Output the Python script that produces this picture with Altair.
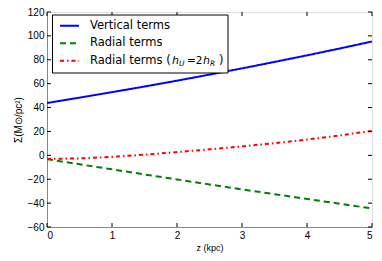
import altair as alt
import pandas as pd

z = [0, 0.5, 1, 1.5, 2, 2.5, 3, 3.5, 4, 4.5, 5]
vertical = [43.8, 48.3, 52.9, 57.6, 62.5, 67.6, 72.8, 78.2, 83.7, 89.4, 95.3]
radial = [-3.2, -7.5, -11.7, -16.0, -20.2, -24.4, -28.5, -32.5, -36.5, -40.5, -44.5]
radial_hu = [-3.0, -2.6, -1.3, 0.5, 2.7, 5.0, 7.5, 10.2, 13.2, 16.6, 20.5]

series_names = ["Vertical terms", "Radial terms", "Radial terms hU"]
series_colors = ["#0000ff", "#008000", "#ff0000"]
series_dash = [[1, 0], [6, 4], [4, 3, 1.5, 3]]

x_ticks = [0, 1, 2, 3, 4, 5]
y_ticks = [-60, -40, -20, 0, 20, 40, 60, 80, 100, 120]

W, H = 325, 215
FONT = "DejaVu Sans"

rows = []
for name, vals in zip(series_names, [vertical, radial, radial_hu]):
    for zi, v in zip(z, vals):
        rows.append({"z": zi, "v": v, "s": name})
df = pd.DataFrame(rows)

xs = alt.Scale(domain=[0, 5], nice=False, zero=False)
ys = alt.Scale(domain=[-60, 120], nice=False, zero=False)
xax = alt.Axis(values=x_ticks, format="d", title="z (kpc)", grid=False, ticks=False,
               labelPadding=3, titleFontWeight="normal", titleFontSize=9, titlePadding=3)
yax = alt.Axis(values=y_ticks, format="d", title="Σ(M⊙/pc²)", grid=False, ticks=False,
               labelPadding=3, titleFontWeight="normal", titleFontSize=10, titlePadding=4)

lines = alt.Chart(df).mark_line(strokeWidth=2, clip=True).encode(
    x=alt.X("z:Q", scale=xs, axis=xax),
    y=alt.Y("v:Q", scale=ys, axis=yax),
    color=alt.Color("s:N", scale=alt.Scale(domain=series_names, range=series_colors), legend=None),
    strokeDash=alt.StrokeDash("s:N", scale=alt.Scale(domain=series_names, range=series_dash), legend=None),
)

xt = pd.DataFrame({"z": x_ticks})
yt = pd.DataFrame({"v": y_ticks})
tick_b = alt.Chart(xt).mark_rule(color="black", strokeWidth=1).encode(
    x=alt.X("z:Q", scale=xs, axis=xax), y=alt.value(H), y2=alt.value(H - 4))
tick_t = alt.Chart(xt).mark_rule(color="black", strokeWidth=1).encode(
    x=alt.X("z:Q", scale=xs, axis=xax), y=alt.value(0), y2=alt.value(4))
tick_l = alt.Chart(yt).mark_rule(color="black", strokeWidth=1).encode(
    y=alt.Y("v:Q", scale=ys, axis=yax), x=alt.value(0), x2=alt.value(4))
tick_r = alt.Chart(yt).mark_rule(color="black", strokeWidth=1).encode(
    y=alt.Y("v:Q", scale=ys, axis=yax), x=alt.value(W), x2=alt.value(W - 4))

one = pd.DataFrame({"a": [0]})
box = alt.Chart(one).mark_rect(fill="white", stroke="black", strokeWidth=1).encode(
    x=alt.value(5.5), x2=alt.value(181), y=alt.value(3), y2=alt.value(61))

leg_layers = [box]
row_y = [13.7, 31.3, 48.7]
for yy, col, dash in zip(row_y, series_colors, series_dash):
    leg_layers.append(alt.Chart(one).mark_rule(color=col, strokeWidth=2, strokeDash=dash).encode(
        x=alt.value(13), x2=alt.value(32), y=alt.value(yy)))

def txt(s, x, y, size=11.5, style="normal"):
    return alt.Chart(one).mark_text(text=s, align="left", baseline="middle", font=FONT,
                                    fontSize=size, fontStyle=style, color="black").encode(
        x=alt.value(x), y=alt.value(y))

leg_layers.append(txt("Vertical terms", 43, row_y[0]))
leg_layers.append(txt("Radial terms", 43, row_y[1]))
leg_layers.append(txt("Radial terms (", 43, row_y[2]))
leg_layers.append(txt("h", 125, row_y[2], size=11, style="italic"))
leg_layers.append(txt("U", 132, row_y[2] + 3, size=7.5, style="italic"))
leg_layers.append(txt("=2", 140, row_y[2], size=10.5))
leg_layers.append(txt("h", 156, row_y[2], size=11, style="italic"))
leg_layers.append(txt("R", 163, row_y[2] + 3, size=7.5, style="italic"))
leg_layers.append(txt(")", 172, row_y[2]))

chart = alt.layer(lines, tick_b, tick_t, tick_l, tick_r, *leg_layers).properties(
    width=W, height=H,
    autosize=alt.AutoSizeParams(type="none"),
    padding={"left": 39, "top": 4, "right": 2, "bottom": 28},
).configure_view(stroke="black", strokeWidth=1).configure_axis(
    domainColor="black", domainWidth=1, labelOverlap=False,
    labelColor="black", labelFont=FONT, labelFontSize=9.5,
    titleColor="black", titleFont=FONT,
).configure(background="white")

chart.save("out.html", embed_options={"renderer": "svg", "actions": False})
